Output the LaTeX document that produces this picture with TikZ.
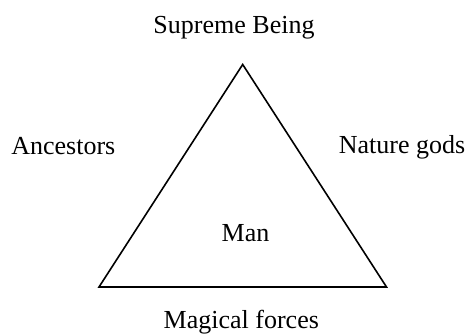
\documentclass[tikz,border=0pt]{standalone}
\usepackage{fontspec}
\setmainfont{Liberation Serif}
\begin{document}
\begin{tikzpicture}[x=1pt,y=-1pt,
  lbl/.style={anchor=base,inner sep=0pt,font=\fontsize{26}{30}\selectfont},
  edge/.style={draw=black,line width=1.6pt,line join=miter}]
\useasboundingbox (0,0) rectangle (469,334);
\coordinate (top) at (242.7,64.5);
\coordinate (bl) at (99,287);
\coordinate (br) at (386.5,287);
\draw[edge] (top) -- (br) -- (bl) -- cycle;
\node[lbl] (supreme) at (234,34) {Supreme Being};
\node[lbl] (ancestors) at (63.3,155) {Ancestors};
\node[lbl] (nature) at (402,154) {Nature gods};
\node[lbl] (man) at (245.5,241.7) {Man};
\node[lbl] (magic) at (241.3,328) {Magical forces};
\end{tikzpicture}
\end{document}
